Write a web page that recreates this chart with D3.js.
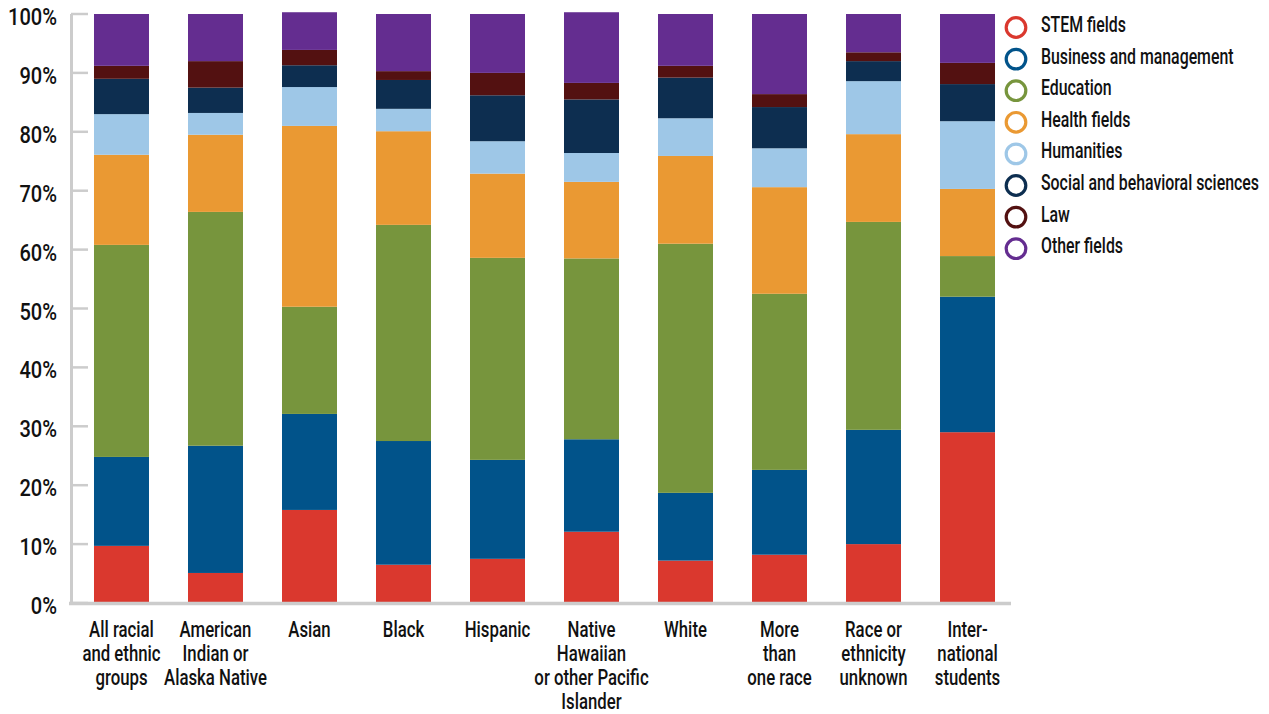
<!DOCTYPE html>
<html><head><meta charset="utf-8">
<script src="https://cdn.jsdelivr.net/npm/d3@7"></script>
<style>
body{margin:0;background:#fff;}
text{font-family:Roboto,"Liberation Sans",sans-serif;font-weight:500;fill:#111;}
</style></head>
<body>
<svg id="chart" width="1269" height="714"></svg>
<script>
const categories = [
  ["All racial","and ethnic","groups"],
  ["American","Indian or","Alaska Native"],
  ["Asian"],
  ["Black"],
  ["Hispanic"],
  ["Native","Hawaiian","or other Pacific","Islander"],
  ["White"],
  ["More","than","one race"],
  ["Race or","ethnicity","unknown"],
  ["Inter-","national","students"]
];
const seriesNames = ["STEM fields","Business and management","Education","Health fields","Humanities","Social and behavioral sciences","Law","Other fields"];
const seriesColors = ["#DA382E","#01538A","#77953D","#EA9933","#9EC7E7","#0D2E50","#531111","#642D90"];
const stem      = [9.7, 5.1, 15.8, 6.5, 7.5, 12.1, 7.2, 8.2, 10.0, 29.0];
const business  = [15.1, 21.6, 16.3, 21.0, 16.8, 15.7, 11.5, 14.4, 19.4, 23.0];
const education = [36.0, 39.7, 18.2, 36.7, 34.3, 30.7, 42.3, 29.9, 35.3, 6.9];
const health    = [15.3, 13.1, 30.7, 15.9, 14.3, 13.0, 14.9, 18.1, 14.9, 11.4];
const humanities= [6.9, 3.7, 6.6, 3.8, 5.5, 4.9, 6.4, 6.6, 9.0, 11.5];
const social    = [6.0, 4.3, 3.7, 4.9, 7.8, 9.1, 6.9, 7.0, 3.4, 6.3];
const law       = [2.2, 4.5, 2.6, 1.5, 3.8, 2.8, 2.0, 2.2, 1.5, 3.6];
const other     = [8.8, 8.0, 6.4, 9.7, 10.0, 12.0, 8.8, 13.6, 6.5, 8.3];
const yTicks = [0,10,20,30,40,50,60,70,80,90,100];

const seriesValues = [stem,business,education,health,humanities,social,law,other];
const rows = categories.map((c,i)=>{
  const r = {key:i};
  seriesNames.forEach((s,j)=>{ r[s]=seriesValues[j][i]; });
  return r;
});
const stacked = d3.stack().keys(seriesNames)(rows);

const svg = d3.select("#chart");
const x = d3.scaleBand().domain(d3.range(categories.length)).range([72,1017]).paddingInner(0.415).paddingOuter(0.234);
const y = d3.scaleLinear().domain([0,100]).range([603,14]);

// measure horizontal condensing factors
function measure(str, fs){
  const p = svg.append("text").style("font-size",fs+"px").text(str);
  const w = p.node().getComputedTextLength(); p.remove(); return w;
}
const FS = 22, FSY = 23.5;
const KL = 218 / measure("Social and behavioral sciences", FS);
const KX = 103 / measure("Alaska Native", FS);
const KY = 49 / measure("100%", FSY);

// bars
svg.append("g").selectAll("g").data(stacked).join("g")
  .attr("fill",(d,i)=>seriesColors[i])
  .selectAll("rect").data(d=>d).join("rect")
  .attr("x",(d,i)=>x(i))
  .attr("width",x.bandwidth())
  .attr("y",d=>y(d[1]))
  .attr("height",d=>y(d[0])-y(d[1]));

// y axis
const ya = svg.append("g");
ya.append("line").attr("x1",71.5).attr("x2",71.5).attr("y1",y(100)).attr("y2",y(0)+1.5)
  .attr("stroke","#cccccc").attr("stroke-width",3);
ya.selectAll(".tk").data(yTicks).join("line").attr("class","tk")
  .attr("x1",71).attr("x2",88).attr("y1",d=>y(d)).attr("y2",d=>y(d))
  .attr("stroke","#cccccc").attr("stroke-width",2.5);
ya.selectAll(".tl").data(yTicks).join("text").attr("class","tl")
  .attr("transform",d=>`translate(57,${y(d)+11}) scale(${KY},1)`)
  .attr("text-anchor","end")
  .style("font-size",FSY+"px").text(d=>d+"%");

// x axis line
svg.append("line").attr("x1",69).attr("x2",1011).attr("y1",y(0)+0.5).attr("y2",y(0)+0.5)
  .attr("stroke","#cccccc").attr("stroke-width",3.5);

// x labels
const xl = svg.append("g").selectAll("text").data(categories).join("text")
  .attr("text-anchor","middle").style("font-size",FS+"px")
  .attr("transform",(d,i)=>`translate(${x(i)+x.bandwidth()/2},637) scale(${KX},1)`);
xl.selectAll("tspan").data(d=>d).join("tspan")
  .attr("x",0).attr("y",(d,k)=>k*24).text(d=>d);

// legend
const lg = svg.append("g").selectAll("g").data(seriesNames).join("g")
  .attr("transform",(d,i)=>`translate(1016,${27.5+i*31.6})`);
lg.append("circle").attr("r",9.8).attr("fill","none")
  .attr("stroke",(d,i)=>seriesColors[i]).attr("stroke-width",3.2);
lg.append("text").attr("transform",`translate(25,4.5) scale(${KL},1)`)
  .style("font-size",FS+"px").text(d=>d);
</script>
</body></html>
